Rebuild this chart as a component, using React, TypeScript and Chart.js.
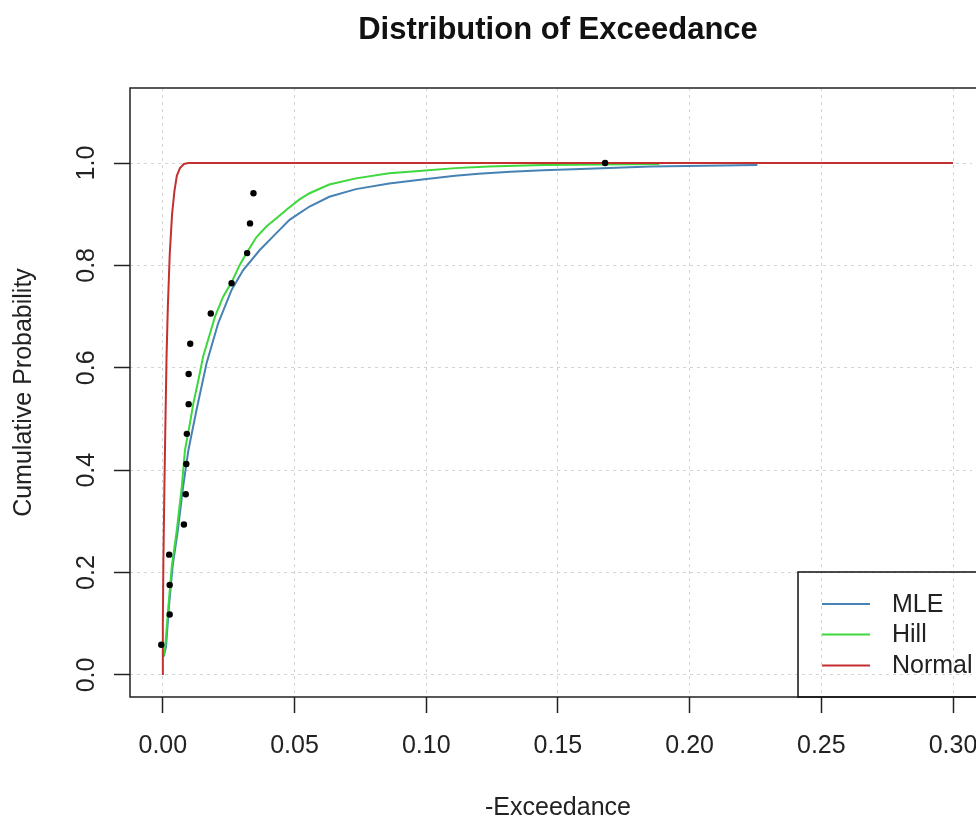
import React, { useEffect, useRef } from 'react';
import { Chart, registerables } from 'chart.js';

Chart.register(...registerables);

const FONT = "'Liberation Sans', Arial, sans-serif";

const chartTitle = 'Distribution of Exceedance';
const xAxisTitle = '-Exceedance';
const yAxisTitle = 'Cumulative Probability';

const xTickValues = [0, 0.05, 0.1, 0.15, 0.2, 0.25, 0.3];
const xTickLabels = ['0.00', '0.05', '0.10', '0.15', '0.20', '0.25', '0.30'];
const yTickValues = [0, 0.2, 0.4, 0.6, 0.8, 1.0];
const yTickLabels = ['0.0', '0.2', '0.4', '0.6', '0.8', '1.0'];

const seriesNames = ['MLE', 'Hill', 'Normal'];
const seriesColors = ['#4682B4', '#3CD83C', '#C4302F'];

// Empirical points
const obsX = [-0.0006, 0.0026, 0.0026, 0.0024, 0.008, 0.0087, 0.0089, 0.0091, 0.0098, 0.0098, 0.0104, 0.0182, 0.0261, 0.032, 0.0331, 0.0344, 0.1679];
const obsY = [0.059, 0.118, 0.176, 0.235, 0.294, 0.353, 0.412, 0.471, 0.529, 0.588, 0.647, 0.706, 0.765, 0.824, 0.882, 0.941, 1.0];

// MLE fitted curve
const mleX = [0.0003, 0.0012, 0.0023, 0.0037, 0.0057, 0.0077, 0.0097, 0.0128, 0.0166, 0.021, 0.0261, 0.0305, 0.0368, 0.0431, 0.0481, 0.0519, 0.0557, 0.0632, 0.0733, 0.0859, 0.0985, 0.111, 0.1199, 0.1319, 0.1444, 0.1615, 0.1852, 0.2257];
const mleY = [0.036, 0.055, 0.133, 0.212, 0.283, 0.368, 0.439, 0.518, 0.609, 0.687, 0.752, 0.791, 0.83, 0.863, 0.889, 0.902, 0.915, 0.934, 0.949, 0.96, 0.968, 0.975, 0.979, 0.983, 0.986, 0.989, 0.993, 0.996];

// Hill fitted curve
const hillX = [0.0002, 0.0009, 0.0021, 0.0034, 0.0053, 0.0072, 0.0084, 0.0103, 0.0116, 0.0135, 0.0153, 0.0179, 0.0198, 0.0229, 0.0261, 0.0292, 0.032, 0.0355, 0.0393, 0.0431, 0.0475, 0.0519, 0.0557, 0.0632, 0.0733, 0.0859, 0.0985, 0.111, 0.1237, 0.1444, 0.1885];
const hillY = [0.036, 0.055, 0.133, 0.212, 0.283, 0.368, 0.439, 0.492, 0.531, 0.576, 0.622, 0.667, 0.7, 0.739, 0.767, 0.801, 0.826, 0.855, 0.876, 0.892, 0.911, 0.929, 0.941, 0.958, 0.97, 0.98, 0.985, 0.99, 0.993, 0.996, 0.998];

// Normal fitted curve
const normX = [0, 0, 0.0002, 0.0006, 0.001, 0.0014, 0.0019, 0.0026, 0.0035, 0.0044, 0.0053, 0.0065, 0.008, 0.0097, 0.3];
const normY = [0, 0.1, 0.22, 0.37, 0.5, 0.62, 0.72, 0.82, 0.9, 0.945, 0.975, 0.99, 0.998, 1.0, 1.0];

const toPts = (xs: number[], ys: number[]) => xs.map((x, i) => ({ x, y: ys[i] }));

const overlayPlugin = {
  id: 'rOverlay',
  afterDraw(chart: any) {
    const { ctx, chartArea } = chart;
    const ys = chart.scales.y;
    const plotLeft = chartArea.left;
    const plotTop = chartArea.top;
    const plotBottom = chartArea.bottom;
    const plotCenterX = (plotLeft + 986) / 2;
    ctx.save();
    // Box
    ctx.strokeStyle = '#222';
    ctx.lineWidth = 1.5;
    ctx.beginPath();
    ctx.moveTo(1000, plotTop);
    ctx.lineTo(plotLeft, plotTop);
    ctx.lineTo(plotLeft, plotBottom);
    ctx.lineTo(1000, plotBottom);
    ctx.stroke();

    // Title
    ctx.fillStyle = '#111';
    ctx.font = `bold 31px ${FONT}`;
    ctx.textAlign = 'center';
    ctx.textBaseline = 'alphabetic';
    ctx.fillText(chartTitle, plotCenterX, 39);

    // x axis title
    ctx.font = `25px ${FONT}`;
    ctx.fillStyle = '#222';
    ctx.fillText(xAxisTitle, plotCenterX, 815);

    // y tick labels (rotated)
    yTickValues.forEach((v, i) => {
      const py = ys.getPixelForValue(v);
      ctx.save();
      ctx.translate(94, py);
      ctx.rotate(-Math.PI / 2);
      ctx.textAlign = 'center';
      ctx.textBaseline = 'alphabetic';
      ctx.fillText(yTickLabels[i], 0, 0);
      ctx.restore();
    });

    // y axis title
    ctx.save();
    ctx.translate(31, (plotTop + plotBottom) / 2);
    ctx.rotate(-Math.PI / 2);
    ctx.textAlign = 'center';
    ctx.textBaseline = 'alphabetic';
    ctx.fillText(yAxisTitle, 0, 0);
    ctx.restore();

    // Legend
    const lx = 798;
    const ly = 572;
    ctx.strokeStyle = '#111';
    ctx.lineWidth = 1.5;
    ctx.strokeRect(lx, ly, 300, plotBottom - ly);
    const rows = [604, 634.5, 665.5];
    const datasets: any[] = chart.data.datasets;
    seriesNames.forEach((name, i) => {
      const d = datasets.find((ds) => ds.label === name);
      if (!d) return;
      const y = rows[i];
      ctx.strokeStyle = d.borderColor;
      ctx.lineWidth = 2;
      ctx.beginPath();
      ctx.moveTo(822, y);
      ctx.lineTo(870, y);
      ctx.stroke();
      ctx.fillStyle = '#222';
      ctx.font = `25px ${FONT}`;
      ctx.textAlign = 'left';
      ctx.textBaseline = 'middle';
      ctx.fillText(d.label, 892, y + 1);
    });
    ctx.restore();
  },
};

export default function App() {
  const canvasRef = useRef<HTMLCanvasElement | null>(null);

  useEffect(() => {
    if (!canvasRef.current) return;
    const gridCommon = {
      color: '#d3d3d3',
      lineWidth: 1,
      drawTicks: true,
      tickLength: 16,
      tickColor: '#222',
      tickWidth: 1.5,
      tickBorderDash: [],
    };
    const lineSet = (idx: number, xs: number[], ys: number[]) => ({
      label: seriesNames[idx],
      data: toPts(xs, ys),
      borderColor: seriesColors[idx],
      backgroundColor: seriesColors[idx],
      borderWidth: 2,
      pointRadius: 0,
      showLine: true,
      tension: 0,
    });
    const chart = new Chart(canvasRef.current, {
      type: 'scatter',
      data: {
        datasets: [
          {
            label: 'Observed',
            data: toPts(obsX, obsY),
            backgroundColor: '#000',
            borderColor: '#000',
            pointRadius: 3.2,
            pointBorderWidth: 0,
            showLine: false,
          } as any,
          lineSet(2, normX, normY) as any,
          lineSet(1, hillX, hillY) as any,
          lineSet(0, mleX, mleY) as any,
        ],
      },
      options: {
        animation: false,
        responsive: false,
        devicePixelRatio: 1,
        layout: { padding: { top: 88, left: 0, right: 0, bottom: 0 } },
        plugins: {
          legend: { display: false },
          tooltip: { enabled: false },
          title: { display: false },
        },
        scales: {
          x: {
            type: 'linear',
            min: -0.01247,
            max: 0.3072,
            afterBuildTicks: (s: any) => {
              s.ticks = xTickValues.map((v) => ({ value: v }));
            },
            afterFit: (s: any) => {
              s.height = 122;
              s.paddingLeft = 0;
              s.paddingRight = 0;
            },
            ticks: {
              autoSkip: false,
              maxRotation: 0,
              minRotation: 0,
              padding: 18,
              color: '#222',
              font: { family: FONT, size: 25 },
              callback: (_v: any, i: number) => xTickLabels[i],
            },
            grid: gridCommon,
            border: { display: false, dash: [3, 4] },
          },
          y: {
            type: 'linear',
            min: -0.043,
            max: 1.1465,
            afterBuildTicks: (s: any) => {
              s.ticks = yTickValues.map((v) => ({ value: v }));
            },
            afterFit: (s: any) => {
              s.width = 130;
              s.paddingTop = 0;
              s.paddingBottom = 0;
            },
            ticks: { display: false },
            grid: gridCommon,
            border: { display: false, dash: [3, 4] },
          },
        },
      } as any,
      plugins: [overlayPlugin],
    });
    return () => chart.destroy();
  }, []);

  return (
    <div style={{ position: 'fixed', left: 0, top: 0, width: 976, height: 819, background: '#fff' }}>
      <canvas ref={canvasRef} width={976} height={819} style={{ width: 976, height: 819, display: 'block' }} />
    </div>
  );
}
